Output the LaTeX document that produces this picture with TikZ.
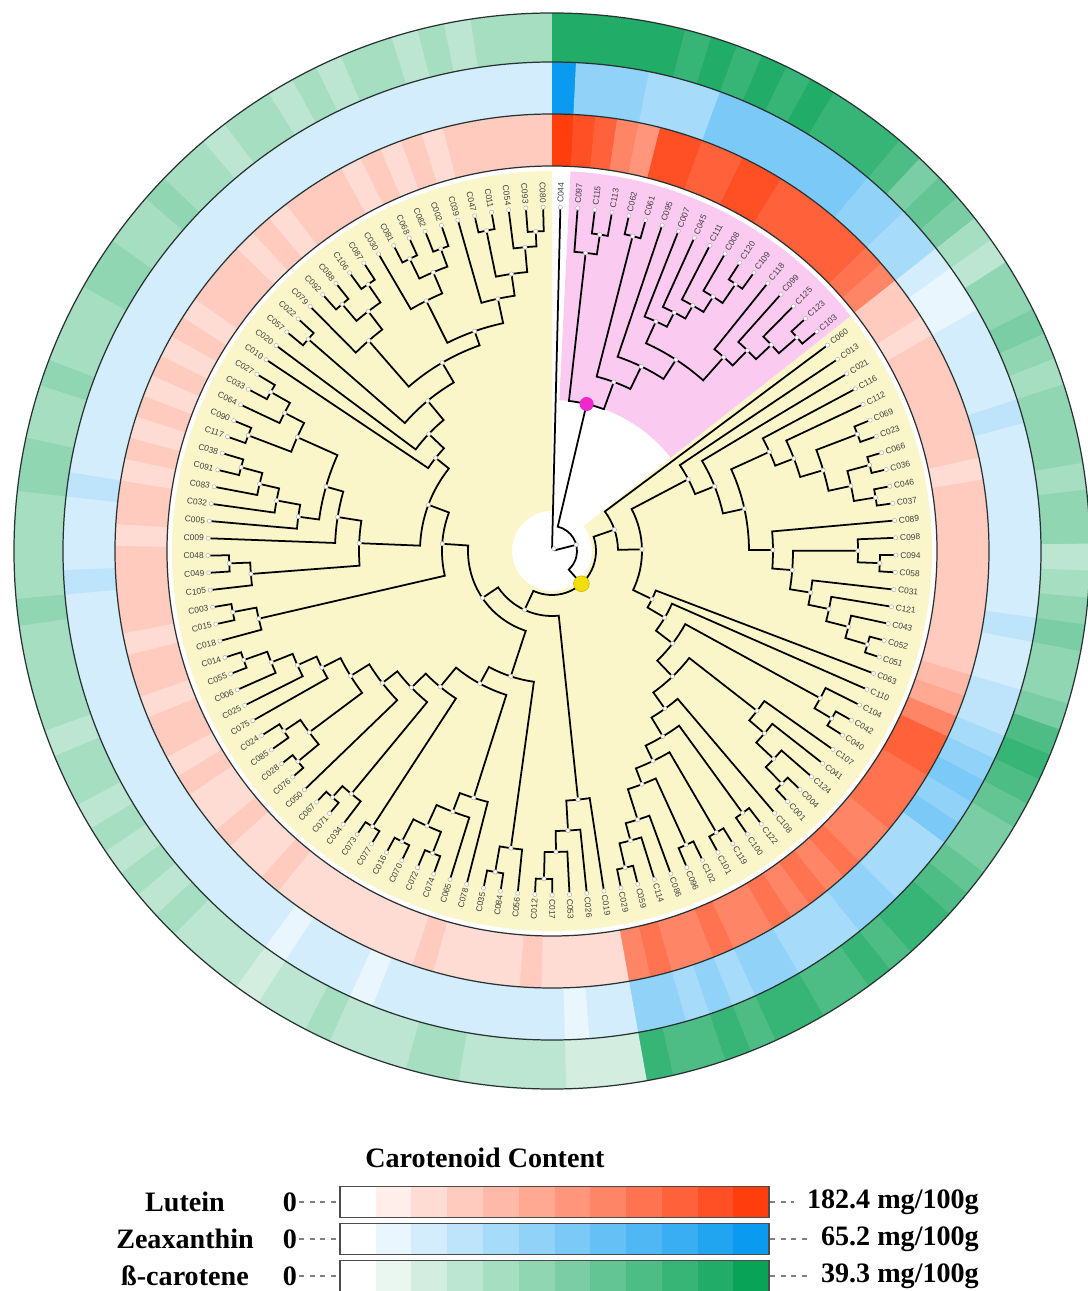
\documentclass[tikz,border=0pt]{standalone}
\usepackage{fontspec}
\setmainfont{Liberation Serif}
\newfontfamily\leaffont{Liberation Sans}

\definecolor{lutred}{RGB}{255,61,13}
\definecolor{zeablue}{RGB}{10,155,240}
\definecolor{betagreen}{RGB}{8,163,86}
\definecolor{cladeyellow}{RGB}{250,246,202}
\definecolor{cladepink}{RGB}{250,202,240}
\definecolor{dotmagenta}{RGB}{238,40,205}
\definecolor{dotyellow}{RGB}{242,222,10}
\definecolor{ringline}{RGB}{40,50,50}

\tikzset{
  branch/.style={line width=1pt, black},
  leafdot/.style={circle, draw=gray!60, fill=white, line width=0.3pt, inner sep=0pt, minimum size=2.4pt},
  joint/.style={leafdot},
  leaflabel/.style={font=\leaffont\fontsize{4.8}{5}\selectfont, inner sep=0pt, text=black!75},
  legtext/.style={font=\bfseries\fontsize{16}{18}\selectfont},
  legframe/.style={draw=black!70, line width=1pt},
}

% join two children (node names) at radius #2 into node #1
\newcommand\tjoin[4]{%
  \pgfmathsetmacro\tja{\csname a@#3\endcsname}%
  \pgfmathsetmacro\tjb{\csname a@#4\endcsname}%
  \pgfmathsetmacro\tjm{(\tja+\tjb)/2}%
  \expandafter\xdef\csname a@#1\endcsname{\tjm}%
  \draw[branch] (#3) -- (\tja:#2) arc[start angle=\tja, end angle=\tjb, radius=#2] -- (#4);
  \node[joint] (#1) at (\tjm:#2) {};
}

\begin{document}
\begin{tikzpicture}[x=0.02cm, y=0.02cm]
\useasboundingbox (-552,-740) rectangle (536,551);

% clade ranges
\fill[cladeyellow] (38.2:40) arc[start angle=38.2, end angle=-270, radius=40]
  -- (-270:380) arc[start angle=-270, end angle=38.2, radius=380] -- cycle;
\fill[cladepink] (38.2:151) arc[start angle=38.2, end angle=87.2, radius=151]
  -- (87.2:380) arc[start angle=87.2, end angle=38.2, radius=380] -- cycle;

% leaves, labels and the three rings
\foreach \lab/\lu/\ze/\be [count=\i from 0] in {
  C044/11/11/10, C097/10/5/10, C115/9/5/10, C113/7/5/10, C062/6/4/10, C061/10/4/9,
  C095/10/4/10, C007/9/6/9, C045/9/6/10, C111/10/6/9, C008/10/6/10, C120/9/6/9,
  C109/9/6/9, C118/9/6/9, C099/9/5/8, C125/9/5/6, C123/8/4/7, C103/7/4/6,
  C060/3/2/4, C013/3/1/3, C021/2/1/5, C116/3/2/5, C112/3/2/6, C069/3/2/5,
  C023/3/2/4, C066/3/3/5, C036/3/2/5, C046/2/2/5, C037/3/2/4, C089/3/2/5,
  C098/3/2/5, C094/3/2/3, C058/3/2/4, C031/3/2/5, C121/3/3/6, C043/3/2/5,
  C052/3/2/5, C051/4/3/6, C063/5/3/8, C110/7/4/9, C104/9/5/8, C042/9/6/7,
  C040/8/5/6, C107/8/6/6, C041/8/4/7, C124/7/4/8, C004/7/4/9, C001/8/5/9,
  C108/7/5/8, C122/8/4/9, C100/7/4/8, C119/8/4/8, C101/7/5/9, C102/7/5/9,
  C096/8/4/8, C086/7/5/9, C114/7/4/8, C059/8/5/8, C029/7/5/9, C019/2/2/2,
  C026/2/2/2, C053/2/1/2, C017/2/2/3, C012/3/2/3, C056/2/2/3, C084/2/2/3,
  C035/2/2/4, C078/2/2/4, C065/3/2/3, C074/2/2/3, C072/2/1/3, C070/2/2/4,
  C016/2/2/3, C077/2/2/3, C073/2/1/2, C034/2/2/3, C071/3/2/3, C067/2/2/3,
  C050/2/2/4, C076/3/2/3, C028/2/2/4, C085/2/2/3, C024/3/2/4, C075/2/2/3,
  C025/3/2/4, C006/3/2/4, C055/2/2/3, C014/3/2/4, C018/3/2/4, C015/2/2/4,
  C003/3/2/4, C105/3/2/5, C049/3/3/4, C048/3/2/4, C009/2/2/4, C005/3/2/4,
  C032/3/3/5, C083/2/2/5, C091/3/2/4, C038/2/2/4, C117/3/2/5, C090/2/2/4,
  C064/3/2/4, C033/2/2/4, C027/3/2/5, C010/2/2/5, C020/3/2/4, C057/3/2/4,
  C022/3/2/5, C079/2/2/4, C092/3/2/4, C088/2/2/3, C106/3/2/4, C087/3/2/4,
  C030/3/2/3, C081/2/2/4, C068/3/2/3, C082/2/2/4, C002/3/2/4, C039/2/2/3,
  C047/3/2/4, C011/3/2/3, C054/3/2/4, C093/3/2/4, C080/3/2/4}{
  \pgfmathsetmacro\ang{88.6-2.88*\i}
  \expandafter\xdef\csname a@\lab\endcsname{\ang}
  \pgfmathsetmacro\aa{\ang+1.47}
  \pgfmathsetmacro\ab{\ang-1.47}
  \pgfmathtruncatemacro\plu{\lu*100/11}
  \pgfmathtruncatemacro\pze{\ze*100/11}
  \pgfmathtruncatemacro\pbe{\be*100/11}
  \fill[lutred!\plu!white] (\aa:385) arc[start angle=\aa, end angle=\ab, radius=385]
    -- (\ab:437) arc[start angle=\ab, end angle=\aa, radius=437] -- cycle;
  \fill[zeablue!\pze!white] (\aa:437) arc[start angle=\aa, end angle=\ab, radius=437]
    -- (\ab:489) arc[start angle=\ab, end angle=\aa, radius=489] -- cycle;
  \fill[betagreen!\pbe!white] (\aa:489) arc[start angle=\aa, end angle=\ab, radius=489]
    -- (\ab:538) arc[start angle=\ab, end angle=\aa, radius=538] -- cycle;
  \node[leafdot] (\lab) at (\ang:344) {};
  \ifdim\ang pt>-90pt
    \node[leaflabel, rotate=\ang, anchor=west] (t\lab) at (\ang:348) {\lab};
  \else
    \pgfmathsetmacro\rot{\ang+180}
    \node[leaflabel, rotate=\rot, anchor=east] (t\lab) at (\ang:348) {\lab};
  \fi
}
\foreach \rr in {385,437,489,538}
  \draw[ringline, line width=0.7pt] (0,0) circle[radius=\rr];

% pink clade
\tjoin{p1}{320}{C115}{C113}
\tjoin{p2}{300}{C097}{p1}
\tjoin{p3}{325}{C062}{C061}
\tjoin{p4}{324}{C120}{C109}
\tjoin{p5}{301}{C008}{p4}
\tjoin{p6}{283}{C111}{p5}
\tjoin{p7}{268}{C045}{p6}
\tjoin{p8}{252}{C007}{p7}
\tjoin{p9}{325}{C123}{C103}
\tjoin{p10}{301}{C125}{p9}
\tjoin{p11}{280}{C099}{p10}
\tjoin{p12}{259}{C118}{p11}
\tjoin{p13}{228}{p8}{p12}
\tjoin{p14}{205}{C095}{p13}
\tjoin{p15}{180}{p3}{p14}
\tjoin{pk}{151}{p2}{p15}

% yellow clade, right side
\tjoin{a1}{327}{C069}{C023}
\tjoin{a2}{329}{C066}{C036}
\tjoin{a3}{328}{C046}{C037}
\tjoin{a4}{306}{a2}{a3}
\tjoin{a5}{283}{a1}{a4}
\tjoin{a6}{259}{C112}{a5}
\tjoin{a7}{239}{C116}{a6}
\tjoin{b1}{328}{C094}{C058}
\tjoin{b2}{306}{C098}{b1}
\tjoin{b3}{329}{C052}{C051}
\tjoin{b4}{306}{C043}{b3}
\tjoin{b5}{283}{C121}{b4}
\tjoin{b6}{262}{C031}{b5}
\tjoin{b7}{241}{b2}{b6}
\tjoin{b8}{221}{C089}{b7}
\tjoin{z1}{197}{a7}{b8}
\tjoin{z2}{175}{C021}{z1}
\tjoin{z3}{154}{C013}{z2}
\tjoin{d1}{326}{C042}{C040}
\tjoin{d2}{306}{C104}{d1}
\tjoin{e1}{327}{C004}{C001}
\tjoin{e2}{304}{C124}{e1}
\tjoin{e3}{280}{C041}{e2}
\tjoin{e4}{260}{C107}{e3}
\tjoin{f1}{325}{C059}{C029}
\tjoin{f2}{300}{C114}{f1}
\tjoin{f3}{282}{C086}{f2}
\tjoin{f4}{323}{C102}{C096}
\tjoin{f5}{250}{f4}{f3}
\tjoin{f6}{326}{C119}{C101}
\tjoin{f7}{233}{f6}{f5}
\tjoin{f8}{324}{C122}{C100}
\tjoin{f9}{216}{f8}{f7}
\tjoin{f10}{194}{C108}{f9}
\tjoin{x1}{174}{e4}{f10}
\tjoin{x2}{152}{d2}{x1}
\tjoin{x3}{131}{C110}{x2}
\tjoin{x4}{111}{C063}{x3}
\tjoin{yc}{90}{z3}{x4}
\tjoin{ya}{66}{C060}{yc}

% yellow clade, bottom
\tjoin{g1}{328}{C017}{C012}
\tjoin{g2}{301}{C053}{g1}
\tjoin{g3}{280}{C026}{g2}
\tjoin{yh}{250}{C019}{g3}
\tjoin{h1}{326}{C084}{C035}
\tjoin{h2}{300}{C056}{h1}
\tjoin{i1}{325}{C074}{C072}
\tjoin{i2}{327}{C070}{C016}
\tjoin{i3}{302}{i1}{i2}
\tjoin{i4}{279}{C065}{i3}
\tjoin{i5}{259}{C078}{i4}
\tjoin{j1}{329}{C077}{C073}
\tjoin{j2}{330}{C071}{C067}
\tjoin{j3}{315}{C034}{j2}
\tjoin{k1}{330}{C076}{C028}
\tjoin{k2}{323}{C085}{C024}
\tjoin{k3}{303}{k1}{k2}
\tjoin{l1}{327}{C055}{C014}
\tjoin{l2}{302}{C006}{l1}
\tjoin{l3}{279}{C025}{l2}
\tjoin{l4}{258}{C075}{l3}
\tjoin{l5}{237}{k3}{l4}
\tjoin{w1}{215}{C050}{l5}
\tjoin{w2}{196}{j3}{w1}
\tjoin{w3}{176}{j1}{w2}
\tjoin{w4}{151}{i5}{w3}
\tjoin{yf}{132}{h2}{w4}

% yellow clade, left and top
\tjoin{m1}{325}{C015}{C003}
\tjoin{m2}{301}{C018}{m1}
\tjoin{n1}{323}{C049}{C048}
\tjoin{n2}{302}{C105}{n1}
\tjoin{o1}{322}{C091}{C038}
\tjoin{o2}{300}{C083}{o1}
\tjoin{o3}{280}{C032}{o2}
\tjoin{o4}{256}{C005}{o3}
\tjoin{o5}{325}{C117}{C090}
\tjoin{o6}{323}{C033}{C027}
\tjoin{o7}{301}{C064}{o6}
\tjoin{o8}{279}{o5}{o7}
\tjoin{o9}{235}{o4}{o8}
\tjoin{o10}{217}{C009}{o9}
\tjoin{o11}{193}{n2}{o10}
\tjoin{q1}{323}{C057}{C022}
\tjoin{r1}{324}{C092}{C088}
\tjoin{r2}{324}{C106}{C087}
\tjoin{r3}{302}{r1}{r2}
\tjoin{r4}{279}{C079}{r3}
\tjoin{s1}{325}{C081}{C068}
\tjoin{s2}{322}{C082}{C002}
\tjoin{s3}{303}{s1}{s2}
\tjoin{s4}{280}{C030}{s3}
\tjoin{t1}{327}{C047}{C011}
\tjoin{t2}{320}{C093}{C080}
\tjoin{t3}{305}{C054}{t2}
\tjoin{t4}{280}{t1}{t3}
\tjoin{t5}{258}{C039}{t4}
\tjoin{t6}{233}{s4}{t5}
\tjoin{u1}{218}{r4}{t6}
\tjoin{u2}{195}{q1}{u1}
\tjoin{u3}{170}{C020}{u2}
\tjoin{yk}{149}{C010}{u3}
\tjoin{yj}{132}{o11}{yk}
\tjoin{yg}{110}{m2}{yj}

% deep nodes
\tjoin{yd}{84}{yf}{yg}
\tjoin{yb}{65}{yd}{yh}
\tjoin{ylw}{44}{ya}{yb}
\tjoin{nod}{25}{pk}{ylw}
\tjoin{root}{3}{C044}{nod}
\node[circle, fill=dotmagenta, inner sep=0pt, minimum size=8pt] (pkdot) at (pk) {};
\node[circle, fill=dotyellow, draw=dotyellow!80!black, line width=0.3pt, inner sep=0pt, minimum size=9pt] (ylwdot) at (ylw) {};

% legend
\node[legtext] (legtitle) at (-67,-607) {Carotenoid Content};
\foreach \nm/\colr/\val/\yy in {Lutein/lutred/182.4/-651, Zeaxanthin/zeablue/65.2/-688, ß-carotene/betagreen/39.3/-725}{
  \foreach \k in {0,...,11}{
    \pgfmathtruncatemacro\pc{\k*100/11}
    \fill[\colr!\pc!white] (-212+35.75*\k,\yy-15.5) rectangle (-212+35.75*\k+35.8,\yy+15.5);
  }
  \draw[legframe] (-212,\yy-15.5) rectangle (217,\yy+15.5);
  \coordinate (bl\colr) at (-213,\yy);
  \coordinate (br\colr) at (218,\yy);
  \node[legtext] (n\colr) at (-367,\yy) {\nm};
  \node[legtext, inner sep=1pt] (z\colr) at (-262,\yy) {0};
  \node[legtext, anchor=east] (v\colr) at (433,\yy) {\val\ mg/100g};
  \draw[dashed, gray, line width=0.6pt] (z\colr.east) -- (bl\colr);
  \draw[dashed, gray, line width=0.6pt, shorten >=4pt] (br\colr) -- (v\colr.west);
}
\end{tikzpicture}
\end{document}
